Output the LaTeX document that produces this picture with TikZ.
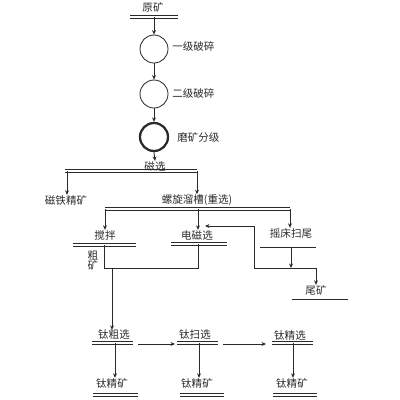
\documentclass[tikz,border=0pt]{standalone}
\usepackage{fontspec}
\newfontfamily\cjk{Noto Sans CJK SC}
\usetikzlibrary{arrows.meta}
\definecolor{ink}{HTML}{2A2A2A}
\tikzset{
  lbl/.style={inner sep=0pt, font=\cjk\fontsize{7.5}{9}\selectfont, text=ink},
  ln/.style={draw=ink, line width=0.6pt},
  arr/.style={ln, -{Stealth[length=3.2pt,width=2.8pt]}},
  dl/.style={draw=ink, line width=0.6pt},
  sgl/.style={draw=ink, line width=0.7pt},
  proc/.style={circle, draw=ink, line width=0.6pt, minimum size=7mm, inner sep=0pt},
  procb/.style={proc, line width=1.6pt}
}
\newcommand{\dbar}[2]{%
  \draw[dl] ([yshift=0.85pt]#1) -- ([yshift=0.85pt]#2);
  \draw[dl] ([yshift=-0.85pt]#1) -- ([yshift=-0.85pt]#2);}
\begin{document}
\begin{tikzpicture}[x=0.25mm,y=-0.25mm]
\useasboundingbox (0,0) rectangle (400,400);
% top
\node[lbl] (yk) at (153,7) {原矿};
\coordinate (b0l) at (130,17); \coordinate (b0r) at (178,17); \coordinate (b0m) at (154,17);
\dbar{b0l}{b0r}
\node[proc] (c1) at (154,49) {};
\node[lbl, anchor=west] (l1) at (172,46) {一级破碎};
\node[proc] (c2) at (154,94) {};
\node[lbl, anchor=west] (l2) at (172,93) {二级破碎};
\node[procb] (c3) at (154,137) {};
\node[lbl, anchor=west] (l3) at (177,137) {磨矿分级};
\draw[arr] (b0m) -- (c1.north);
\draw[arr] (c1.south) -- (c2.north);
\draw[arr] (c2.south) -- (c3.north);
% magnetic
\node[lbl] (cx) at (155,166) {磁选};
\draw[arr] (c3.south) -- (cx.north);
\coordinate (b1l) at (65,171); \coordinate (b1r) at (197,171);
\dbar{b1l}{b1r}
\node[lbl] (ctj) at (66,200) {磁铁精矿};
\node[lbl] (lx) at (197,200) {螺旋溜槽(重选)};
\draw[arr] (b1l) ++(2,0) coordinate (b1a) -- (b1a |- ctj.north);
\draw[arr] (b1r) -- (b1r |- lx.north);
\coordinate (b2l) at (105,209); \coordinate (b2m) at (198,209); \coordinate (b2r) at (290,209);
\dbar{b2l}{b2r}
\node[lbl] (jb) at (105,235) {搅拌};
\node[lbl] (dcx) at (197,235) {电磁选};
\node[lbl] (yc) at (291,233) {摇床扫尾};
\draw[arr] (b2l) -- (b2l |- jb.north);
\draw[arr] (b2m) -- (b2m |- dcx.north);
\draw[arr] (b2r) -- (b2r |- yc.north);
% second level
\coordinate (b3l) at (73,245); \coordinate (b3r) at (136,245); \coordinate (b3m) at (104,245);
\dbar{b3l}{b3r}
\node[lbl] (cu) at (93,255) {粗};
\node[lbl] (ku) at (93,265) {矿};
\coordinate (b4l) at (171,244); \coordinate (b4r) at (227,244); \coordinate (b4m) at (198,244);
\dbar{b4l}{b4r}
\coordinate (j1) at (104,268); \coordinate (j2) at (198,268); \coordinate (j3) at (112,268);
\draw[ln] (b3m) -- (j1) -- (j2) -- (b4m);
\coordinate (b5l) at (260,247); \coordinate (b5r) at (316,247); \coordinate (b5m) at (291,247);
\draw[sgl] (b5l) -- (b5r);
\coordinate (h1) at (254,268); \coordinate (h2) at (316,268); \coordinate (h3) at (291,268);
\draw[arr] (b5m) -- (h3);
\draw[ln] (h1) -- (h2);
\node[lbl] (wk) at (316,290) {尾矿};
\draw[arr] (h2) -- (wk.north);
\coordinate (b6l) at (292,299); \coordinate (b6r) at (348,299);
\draw[sgl] (b6l) -- (b6r);
\coordinate (f1) at (254,226); \coordinate (f2) at (205,226);
\draw[arr] (h1) -- (f1) -- (f2);
% titanium
\node[lbl] (tc) at (114,335) {钛粗选};
\node[lbl] (ts) at (195,335) {钛扫选};
\node[lbl] (tj) at (290,335) {钛精选};
\draw[arr] (j3) -- (j3 |- tc.north);
\coordinate (t1l) at (92,343); \coordinate (t1r) at (133,343); \coordinate (t1m) at (115,343);
\coordinate (t2l) at (177,343); \coordinate (t2r) at (218,343); \coordinate (t2m) at (199,343);
\coordinate (t3l) at (272,343); \coordinate (t3r) at (313,343); \coordinate (t3m) at (293,343);
\dbar{t1l}{t1r}
\dbar{t2l}{t2r}
\dbar{t3l}{t3r}
\coordinate (a1s) at (138,344); \coordinate (a1e) at (175,344);
\coordinate (a2s) at (223,344); \coordinate (a2e) at (266,344);
\draw[arr] (a1s) -- (a1e);
\draw[arr] (a2s) -- (a2e);
\node[lbl] (k1) at (112,383) {钛精矿};
\node[lbl] (k2) at (197,383) {钛精矿};
\node[lbl] (k3) at (292,383) {钛精矿};
\draw[arr] (t1m) -- (t1m |- k1.north);
\draw[arr] (t2m) -- (t2m |- k2.north);
\draw[arr] (t3m) -- (t3m |- k3.north);
\coordinate (u1l) at (93,395); \coordinate (u1r) at (138,395);
\coordinate (u2l) at (180,395); \coordinate (u2r) at (224,395);
\coordinate (u3l) at (273,395); \coordinate (u3r) at (317,395);
\dbar{u1l}{u1r}
\dbar{u2l}{u2r}
\dbar{u3l}{u3r}
\end{tikzpicture}
\end{document}
